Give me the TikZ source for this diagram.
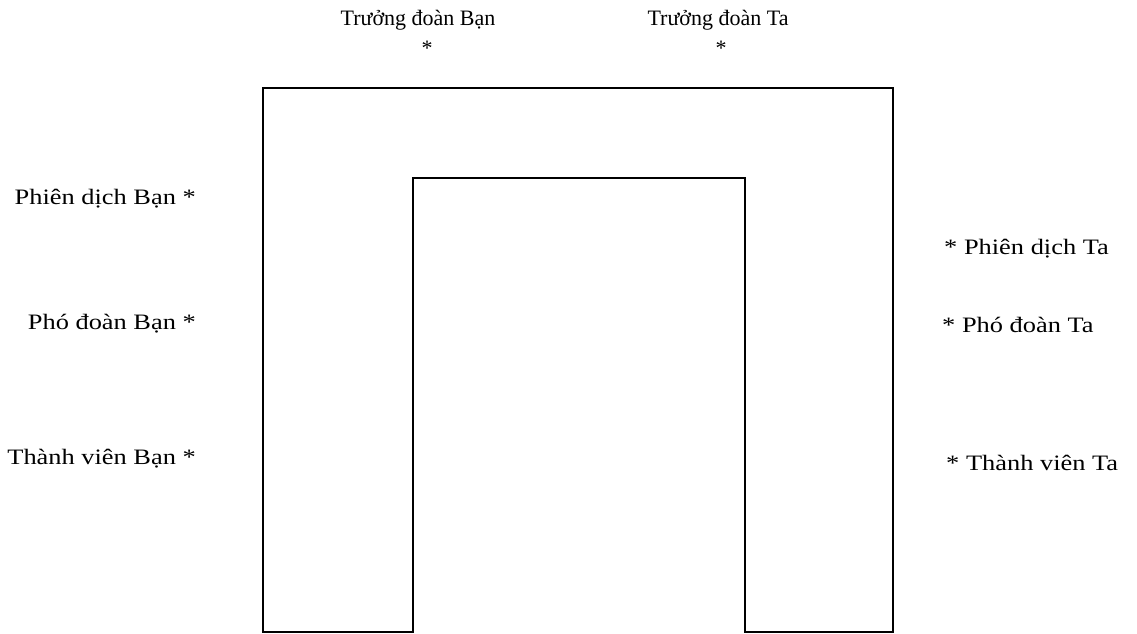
\documentclass[tikz,border=0pt]{standalone}
\usepackage{fontspec}
\setmainfont{Liberation Serif}
\newfontfamily\sidefont[FakeStretch=1.2]{Liberation Serif}
\tikzset{
  guest/.style={inner sep=0pt, font=\fontsize{22}{26}\selectfont},
  side guest/.style={inner sep=0pt, font=\sidefont\fontsize{22}{26}\selectfont},
  table/.style={line width=1.4pt, line join=miter}
}
\begin{document}
\begin{tikzpicture}[x=1pt, y=-1pt]
\useasboundingbox (0,0) rectangle (1137,634);
% ban tiep don hinh chu U
\draw[table] (263,632) -- (263,88) -- (893,88) -- (893,632) -- (745,632)
  -- (745,178) -- (413,178) -- (413,632) -- cycle;

% hai truong doan
\node[guest, align=center] (tdb) at (418,33) {Trưởng đoàn Bạn\\[4pt]\hspace*{18pt}*};
\node[guest, align=center] (tdt) at (718,33) {Trưởng đoàn Ta\\[4pt]\hspace*{6pt}*};

% ben Ban
\node[side guest, anchor=east] (pdb) at (196,199) {Phiên dịch Bạn *};
\node[side guest, anchor=east] (fdb) at (196,324) {Phó đoàn Bạn *};
\node[side guest, anchor=east] (tvb) at (196,459) {Thành viên Bạn *};

% ben Ta
\node[side guest, anchor=west] (pdt) at (944,249) {* Phiên dịch Ta};
\node[side guest, anchor=west] (fdt) at (942,325) {* Phó đoàn Ta};
\node[side guest, anchor=west] (tvt) at (946,463) {* Thành viên Ta};
\end{tikzpicture}
\end{document}
